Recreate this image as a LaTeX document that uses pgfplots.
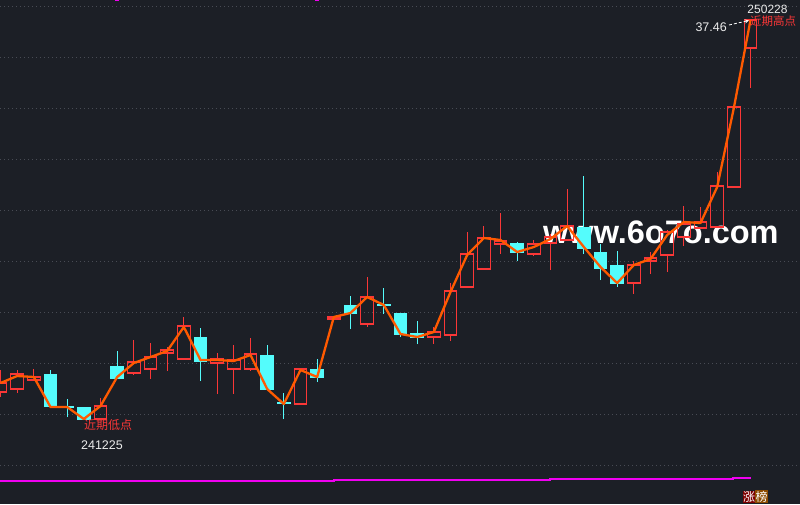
\documentclass[border=0pt]{standalone}
\usepackage{pgfplots}
\pgfplotsset{compat=1.18}
\usepgfplotslibrary{statistics}
\usepackage{fontspec}
\setmainfont{Liberation Sans}
\newfontfamily\cjk{Noto Sans CJK SC}
\definecolor{bgc}{RGB}{28,31,38}
\definecolor{gridc}{RGB}{72,75,84}
\definecolor{cred}{RGB}{250,55,55}
\definecolor{ccyan}{RGB}{84,252,252}
\definecolor{corange}{RGB}{255,90,0}
\definecolor{cmag}{RGB}{240,0,240}
\definecolor{zred}{RGB}{125,0,0}
\definecolor{zbrown}{RGB}{140,75,0}
\newcommand{\candle}[6]{\addplot[#1, boxplot/draw direction=y, boxplot prepared={draw position=#2, lower whisker=#3, lower quartile=#4, median=#4, upper quartile=#5, upper whisker=#6}] coordinates {};}
\begin{document}
\begin{tikzpicture}
\begin{axis}[
  width=800pt, height=504pt, scale only axis,
  xmin=0, xmax=800, ymin=0, ymax=504, y dir=reverse,
  axis background/.style={fill=bgc},
  axis line style={draw=none},
  xtick=\empty,
  ytick={6,57.1,108.2,159.3,210.4,261.5,312.6,363.7,414.8,465.9},
  yticklabels={},
  tick style={draw=none},
  ymajorgrids,
  major grid style={draw=gridc, line width=1pt, dash pattern=on 1pt off 3pt},
  boxplot/draw direction=y,
  boxplot/box extend=12.5,
  boxplot/whisker extend=0,
  rc/.style={draw=cred, fill=none, line width=1.1pt, solid,
    boxplot/every box/.style={draw=cred, fill=none, line width=1.1pt},
    boxplot/every whisker/.style={draw=cred, line width=1.1pt},
    boxplot/every median/.style={draw=cred, line width=1.1pt}},
  cc/.style={draw=ccyan, fill=ccyan, line width=1.1pt, solid,
    boxplot/every box/.style={draw=ccyan, fill=ccyan, line width=1.1pt},
    boxplot/every whisker/.style={draw=ccyan, line width=1.1pt},
    boxplot/every median/.style={draw=ccyan, line width=1.1pt}},
]
% watermark (below candles)
\node[anchor=base west, inner sep=0, text=white, font=\fontsize{32.5}{32.5}\selectfont\bfseries] at (axis cs:543,243) {www.6o7o.com};

% candles: style, x, high, body top, body bottom, low (pixel rows)
\candle{rc}{0.5}{370}{383}{392}{397}
\candle{rc}{17.17}{370}{374}{389}{393}
\candle{rc}{33.83}{369}{377}{380}{381}
\candle{cc}{50.5}{370}{375}{406}{406}
\candle{cc}{67.17}{399}{406.5}{407.5}{417}
\candle{cc}{83.83}{407}{408}{419}{420}
\candle{rc}{100.5}{398}{406}{419}{419}
\candle{cc}{117.17}{351}{367}{378}{378}
\candle{rc}{133.83}{340}{362}{373}{375}
\candle{rc}{150.5}{343}{357}{369}{379}
\candle{rc}{167.17}{347}{350}{353}{371}
\candle{rc}{183.83}{317}{326}{359}{360}
\candle{cc}{200.5}{328}{338}{361}{381}
\candle{rc}{217.17}{353}{359}{363}{394}
\candle{rc}{233.83}{345}{360}{369}{394}
\candle{rc}{250.5}{338}{354}{369}{371}
\candle{cc}{267.17}{345}{356}{389}{389}
\candle{cc}{283.83}{393}{402.5}{403.5}{419}
\candle{rc}{300.5}{369}{369}{404}{404}
\candle{cc}{317.17}{359}{370}{377}{382}
\candle{rc}{333.83}{316}{317}{319}{320}
\candle{cc}{350.5}{296}{306}{313}{329}
\candle{rc}{367.17}{277}{297}{324}{327}
\candle{cc}{383.83}{288}{304.5}{305.5}{314}
\candle{cc}{400.5}{314}{314}{334}{337}
\candle{cc}{417.17}{321}{334}{337}{344}
\candle{rc}{433.83}{327}{332}{337}{344}
\candle{rc}{450.5}{283}{291}{335}{341}
\candle{rc}{467.17}{232}{254}{287}{287}
\candle{rc}{483.83}{226}{238}{269}{269}
\candle{rc}{500.5}{213}{241}{244}{254}
\candle{cc}{517.17}{242}{244}{252}{261}
\candle{rc}{533.83}{240}{244}{254}{256}
\candle{rc}{550.5}{234}{237}{243}{270}
\candle{rc}{567.17}{189}{226}{240}{241}
\candle{cc}{583.83}{176}{228}{248}{254}
\candle{cc}{600.5}{244}{253}{268}{280}
\candle{cc}{617.17}{251}{266}{283}{287}
\candle{rc}{633.83}{261}{265}{283}{294}
\candle{rc}{650.5}{252}{258}{261}{274}
\candle{rc}{667.17}{230}{232}{255}{272}
\candle{rc}{683.83}{206}{224}{237}{246}
\candle{rc}{700.5}{207}{222}{228}{228}
\candle{rc}{717.17}{172}{186}{227}{227}
\candle{rc}{733.83}{107}{107}{187}{187}
\candle{rc}{750.5}{20}{20}{48}{88}

% moving average
\addplot[corange, line width=2.3pt, mark=none, line join=round] coordinates {
(0.5,383) (17.17,376) (33.83,377) (50.5,407) (67.17,407) (83.83,419)
(100.5,406) (117.17,377) (133.83,363) (150.5,357) (167.17,351) (183.83,327)
(200.5,360) (217.17,360) (233.83,361) (250.5,355) (267.17,389) (283.83,404)
(300.5,370) (317.17,377) (333.83,317) (350.5,313) (367.17,297) (383.83,305)
(400.5,334) (417.17,337) (433.83,332) (450.5,292) (467.17,255) (483.83,238)
(500.5,240) (517.17,252) (533.83,247) (550.5,239) (567.17,226) (583.83,247)
(600.5,267) (617.17,283) (633.83,265) (650.5,259) (667.17,235) (683.83,222)
(700.5,223) (717.17,187) (733.83,108) (750.5,20)
};

% magenta indicator line
\addplot[cmag, line width=1.6pt, mark=none] coordinates {
(0,480.7) (334,480.7) (334,479.7) (550,479.7) (550,479) (733,479) (733,478) (751,478)
};
\addplot[cmag, line width=1.5pt, mark=none] coordinates {(115,0.6) (118.5,0.6)};
\addplot[cmag, line width=1.5pt, mark=none] coordinates {(315,0.6) (318.5,0.6)};

% annotations
\node[anchor=base west, inner sep=0, text=cred, font=\cjk\fontsize{12}{12}\selectfont] at (axis cs:84,429.5) {近期低点};
\node[anchor=base, inner sep=0, text=white!92!black, font=\fontsize{12.5}{12.5}\selectfont] at (axis cs:102,449) {241225};
\node[anchor=base, inner sep=0, text=white!92!black, font=\fontsize{12}{12}\selectfont] at (axis cs:767.5,13) {250228};
\node[anchor=base east, inner sep=0, text=white!92!black, font=\fontsize{12.5}{12.5}\selectfont] at (axis cs:727,31) {37.46};
\node[anchor=base west, inner sep=0, text=cred, font=\cjk\fontsize{11.5}{11.5}\selectfont] at (axis cs:750,25) {近期高点};
\draw[white, densely dashed, line width=0.8pt, -stealth] (axis cs:729,25) -- (axis cs:749,20.5);
\node[anchor=base, fill=zred, text=white, inner xsep=0.3pt, inner ysep=1pt, font=\cjk\fontsize{12}{12}\selectfont] at (axis cs:749,501.5) {涨};
\node[anchor=base, fill=zbrown, text=white, inner xsep=0.3pt, inner ysep=1pt, font=\cjk\fontsize{12}{12}\selectfont] at (axis cs:761.6,501.5) {榜};
\end{axis}
\pgfresetboundingbox
\path[use as bounding box] (current axis.south west) rectangle (current axis.north east);
\end{tikzpicture}
\end{document}
